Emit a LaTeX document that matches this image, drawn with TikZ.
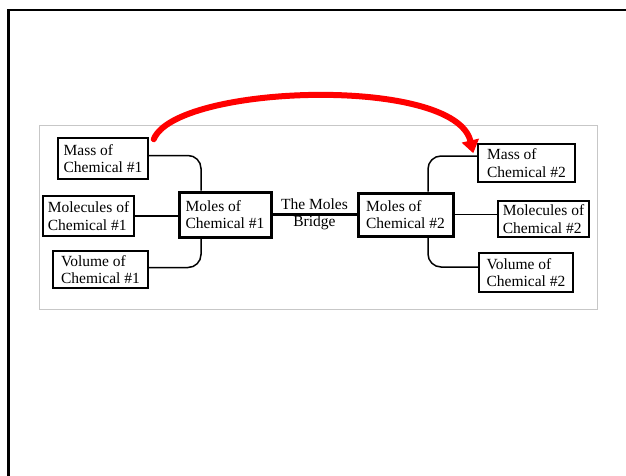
\documentclass[tikz,border=0pt]{standalone}
\usepackage{fontspec}
\setmainfont{Liberation Serif}
\usepackage{tikz}
\usetikzlibrary{calc, arrows.meta, positioning}

\tikzset{
	chembox/.style = {draw, line width = 1.5pt, align = left, inner sep = 3pt,
		font = \fontsize{15.5}{17.5}\selectfont},
	molesbox/.style = {chembox, line width = 3pt},
	link/.style = {line width = 1.5pt, rounded corners = 13pt},
	bridge/.style = {line width = 2.8pt},
	jump/.style = {red, line width = 6pt, line cap = round,
		-{Triangle[length = 13pt, width = 17pt]}}
}

\begin{document}
\begin{tikzpicture}[x = 1pt, y = -1pt]
			\def\W{626};
			\def\H{476};

			\useasboundingbox (0,0) rectangle (\W,\H);

			% page frame and panel
			\draw[line width = 2.5pt] (8.5,\H + 5) -- (8.5,10) -- (\W + 5,10);
			\draw[black!22, line width = 0.8pt] (39,125) rectangle (597,309);

			% left side
			\node[chembox, minimum width = 90pt, minimum height = 41pt] (mass1) at (103,158.5) {Mass of\\Chemical \#1};
			\node[chembox, minimum width = 91pt, minimum height = 40pt, inner xsep = 1pt] (molecules1) at (88.5,216) {Molecules of\\Chemical \#1};
			\node[chembox, minimum width = 95pt, minimum height = 37pt] (volume1) at (100.5,269.5) {Volume of\\Chemical \#1};
			\node[molesbox, minimum width = 92pt, minimum height = 45pt] (moles1) at (225,214.5) {Moles of\\Chemical \#1};

			% right side
			\node[molesbox, minimum width = 95pt, minimum height = 43pt] (moles2) at (405.5,214.5) {Moles of\\Chemical \#2};
			\node[chembox, minimum width = 97pt, minimum height = 38pt] (mass2) at (526.5,163) {Mass of\\Chemical \#2};
			\node[chembox, minimum width = 91pt, minimum height = 36pt, inner xsep = 0pt] (molecules2) at (543.5,219) {Molecules of\\Chemical \#2};
			\node[chembox, minimum width = 94pt, minimum height = 39pt] (volume2) at (526,272.5) {Volume of\\Chemical \#2};

			\begin{scope}[link]
				\draw ([yshift = 3pt]mass1.east) -| ([xshift = -24pt]moles1.north);
				\draw (molecules1.east) -- (molecules1.east -| moles1.west);
				\draw ([yshift = 2pt]volume1.east) -| ([xshift = -24pt]moles1.south);

				\draw ([xshift = 22.5pt]moles2.north) |- ([yshift = 7pt]mass2.west);
				\draw (moles2.east) -- (moles2.east -| molecules2.west);
				\draw ([xshift = 22.5pt]moles2.south) |- ([yshift = 5.5pt]volume2.west);
			\end{scope}

			\draw[bridge] (moles1.east) -- (moles2.west)
				node [midway, align = center, inner sep = 0pt, font = \fontsize{15.5}{17.5}\selectfont] (bridgelabel) {The Moles\\Bridge};

			\draw[jump] ([xshift = 5pt, yshift = -2pt]mass1.north east)
				.. controls +(22,-55) and +(-18,-78) .. ([xshift = -4pt, yshift = -10pt]mass2.north west);
		\end{tikzpicture}
\end{document}
